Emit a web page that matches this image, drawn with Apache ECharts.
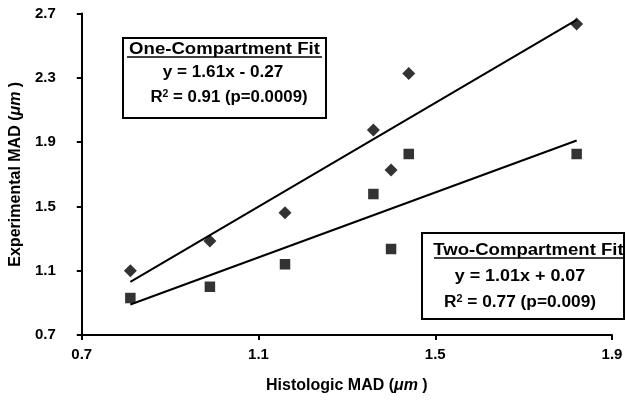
<!DOCTYPE html>
<html>
<head>
<meta charset="utf-8">
<script src="https://cdn.jsdelivr.net/npm/echarts@6/dist/echarts.min.js"></script>
<style>
html,body{margin:0;padding:0;background:#fff;}
#chart{width:626px;height:403px;}
</style>
</head>
<body>
<div id="chart"></div>
<script>
// ---- data ----
var histologicMAD = [0.81, 0.99, 1.16, 1.36, 1.40, 1.44, 1.82];
var oneCompartment = [1.10, 1.285, 1.46, 1.975, 1.726, 2.327, 2.634];
var twoCompartment = [0.93, 1.00, 1.14, 1.577, 1.235, 1.826, 1.826];
var oneFitX = [0.81, 1.82];
var oneFitY = [1.03, 2.66];
var twoFitX = [0.81, 1.82];
var twoFitY = [0.89, 1.91];
var xTicks = [0.7, 1.1, 1.5, 1.9];
var yTicks = [0.7, 1.1, 1.5, 1.9, 2.3, 2.7];
var xTitle = 'Histologic MAD (';
var yTitle = 'Experimental MAD (';
var box1Lines = ['One-Compartment Fit', 'y = 1.61x - 0.27', ' = 0.91 (p=0.0009)'];
var box2Lines = ['Two-Compartment Fit', 'y = 1.01x + 0.07', ' = 0.77 (p=0.009)'];

function pairs(xs, ys){ return xs.map(function(x,i){ return [x, ys[i]]; }); }

var FONT = "'Liberation Sans', Arial, sans-serif";
var chart = echarts.init(document.getElementById('chart'));

function axisCommon(){
  return {
    axisLine:{show:true, onZero:false, lineStyle:{color:'#000', width:2}},
    axisTick:{show:true, inside:false, length:5, lineStyle:{color:'#000', width:2}},
    splitLine:{show:false},
    axisLabel:{color:'#000', fontSize:15, fontWeight:'bold', fontFamily:FONT,
      formatter:function(v){ return v.toFixed(1); }}
  };
}
var nameRich = {
  a:{fontSize:16, fontWeight:'bold', fontFamily:FONT, color:'#000'},
  i:{fontSize:16, fontWeight:'bold', fontStyle:'italic', fontFamily:FONT, color:'#000'}
};

var xAxis = axisCommon();
Object.assign(xAxis, {type:'value', min:xTicks[0], max:xTicks[xTicks.length-1], interval:0.4,
  name:'{a|'+xTitle+'}{i|μm}{a| )}', nameLocation:'middle', nameGap:43,
  nameTextStyle:{rich:nameRich}});
xAxis.axisLabel.margin = 12;
var yAxis = axisCommon();
Object.assign(yAxis, {type:'value', min:yTicks[0], max:yTicks[yTicks.length-1], interval:0.4,
  name:'{a|'+yTitle+'}{i|μm}{a| )}', nameLocation:'middle', nameGap:53, nameRotate:90,
  nameTextStyle:{rich:nameRich}});
yAxis.axisLabel.margin = 26;

function boxText(x, y, txt, sx){
  return {type:'text', x:x, y:y, scaleX:sx, z:20,
    style:{text:txt, fill:'#000', font:'bold 16px '+FONT, textAlign:'center', textVerticalAlign:'middle'}};
}
function rText(x, y, rest, sx){
  return {type:'text', x:x, y:y, scaleX:sx, z:20,
    style:{text:'{b|R}{s|2}{b|'+rest+'}', textAlign:'center', textVerticalAlign:'middle',
      rich:{b:{fontSize:16, fontWeight:'bold', fontFamily:FONT, fill:'#000', lineHeight:18},
            s:{fontSize:10, fontWeight:'bold', fontFamily:FONT, fill:'#000', lineHeight:18, padding:[0,0,8,0]}}}};
}

var option = {
  backgroundColor:'#fff',
  animation:false,
  grid:{left:77, right:14, top:13.5, bottom:68, containLabel:false},
  xAxis:xAxis,
  yAxis:yAxis,
  series:[
    {type:'line', data:pairs(oneFitX, oneFitY), symbol:'none', lineStyle:{color:'#000', width:2}, z:2},
    {type:'line', data:pairs(twoFitX, twoFitY), symbol:'none', lineStyle:{color:'#000', width:2}, z:2},
    {type:'scatter', data:pairs(histologicMAD, oneCompartment), symbol:'diamond', symbolSize:13,
      itemStyle:{color:'#000'}, z:3},
    {type:'scatter', data:pairs(histologicMAD, twoCompartment), symbol:'rect', symbolSize:10.5,
      itemStyle:{color:'#000'}, z:3}
  ],
  graphic:[
    {type:'rect', shape:{x:123, y:38, width:203, height:80}, z:10,
      style:{fill:'#fff', stroke:'#000', lineWidth:2}},
    boxText(224.5, 50, box1Lines[0], 1.16),
    {type:'line', shape:{x1:127, y1:57, x2:322, y2:57}, z:20, style:{stroke:'#000', lineWidth:1.5}},
    boxText(223, 72.5, box1Lines[1], 1.07),
    rText(229, 98, box1Lines[2], 1.05),

    {type:'rect', shape:{x:422, y:233, width:202, height:86}, z:10,
      style:{fill:'#fff', stroke:'#000', lineWidth:2}},
    boxText(528.5, 250.5, box2Lines[0], 1.16),
    {type:'line', shape:{x1:434, y1:258, x2:623, y2:258}, z:20, style:{stroke:'#000', lineWidth:1.5}},
    boxText(520, 276.5, box2Lines[1], 1.12),
    rText(520, 303, box2Lines[2], 1.08)
  ]
};
chart.setOption(option);
</script>
</body>
</html>
